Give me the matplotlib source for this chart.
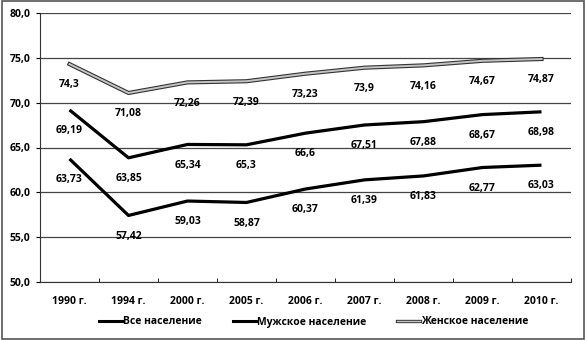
import matplotlib
matplotlib.use("Agg")
import matplotlib.pyplot as plt
import matplotlib.patheffects as pe
from matplotlib.lines import Line2D

# data
years = ["1990 г.", "1994 г.", "2000 г.", "2005 г.", "2006 г.",
         "2007 г.", "2008 г.", "2009 г.", "2010 г."]
total = [69.19, 63.85, 65.34, 65.3, 66.6, 67.51, 67.88, 68.67, 68.98]
male = [63.73, 57.42, 59.03, 58.87, 60.37, 61.39, 61.83, 62.77, 63.03]
female = [74.3, 71.08, 72.26, 72.39, 73.23, 73.9, 74.16, 74.67, 74.87]

names = ["Все население", "Мужское население", "Женское население"]

plt.rcParams['font.family'] = ['Open Sans', 'DejaVu Sans']

def fmt(v):
    s = f"{v:.2f}".rstrip("0").rstrip(".")
    return s.replace(".", ",")

fig = plt.figure(figsize=(5.86, 3.4), dpi=100)
ax = fig.add_axes([40/586, 58/340, 531/586, 269/340])

x = list(range(len(years)))
ax.plot(x, total, color="black", lw=2.3, solid_capstyle="butt", zorder=3)
ax.plot(x, male, color="black", lw=2.3, solid_capstyle="butt", zorder=3)
ax.plot(x, female, color="#c4c4c4", lw=1.4, zorder=3,
        path_effects=[pe.Stroke(linewidth=3.0, foreground="#333333"), pe.Normal()])

for series in (total, male, female):
    for xi, v in zip(x, series):
        ax.annotate(fmt(v), (xi, v), xytext=(0, -15), textcoords="offset points",
                    ha="center", va="center", fontsize=7.5, fontweight="bold", zorder=4)

ax.set_xlim(-0.5, len(years) - 0.5)
ax.set_ylim(50, 80)
ax.set_yticks([50, 55, 60, 65, 70, 75, 80])
ax.set_yticklabels([f"{t:.1f}".replace(".", ",") for t in [50, 55, 60, 65, 70, 75, 80]],
                   fontsize=7.5, fontweight="bold")
ax.set_xticks(x)
ax.set_xticklabels(years, fontsize=7.5, fontweight="bold")
ax.tick_params(axis="x", length=0, pad=10)
ax.tick_params(axis="y", length=3, pad=4)
ax.set_xticks([i - 0.5 for i in range(len(years) + 1)], minor=True)
ax.tick_params(axis="x", which="minor", length=3, direction="in")
ax.grid(axis="y", color="#444444", lw=0.9)
ax.set_axisbelow(True)
for s in ["top", "right"]:
    ax.spines[s].set_visible(False)
ax.spines["left"].set_color("#333333")
ax.spines["bottom"].set_color("#333333")

handles = [
    Line2D([], [], color="black", lw=2.2),
    Line2D([], [], color="black", lw=2.2),
    Line2D([], [], color="#c4c4c4", lw=1.0,
           path_effects=[pe.Stroke(linewidth=2.4, foreground="#333333"), pe.Normal()]),
]
fig.legend(handles, names, loc="center", bbox_to_anchor=(0.535, 18/340), ncol=3,
           frameon=False, prop={"weight": "bold", "size": 7.5},
           handlelength=2.2, handletextpad=0.1, columnspacing=3.0)

# outer frame
fig.patches.append(plt.Rectangle((0.003, 0.004), 0.994, 0.992, transform=fig.transFigure,
                                 fill=False, edgecolor="#555555", lw=1.2))

fig.savefig("out.png", dpi=100)
